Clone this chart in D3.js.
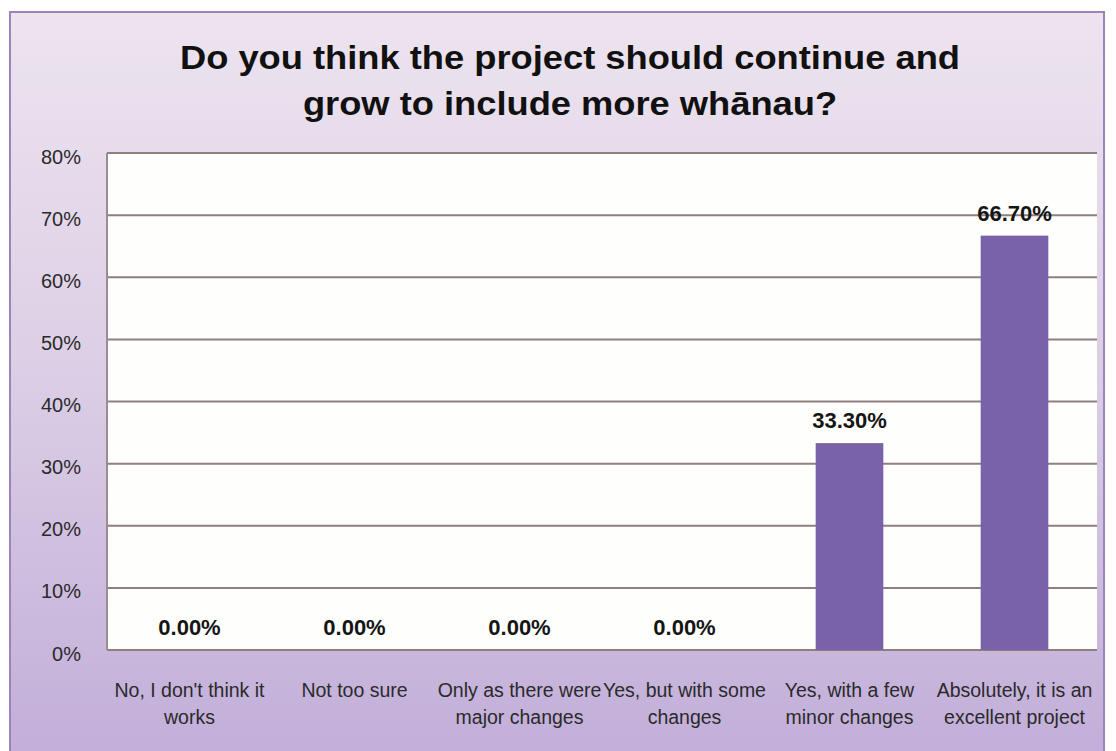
<!DOCTYPE html>
<html>
<head>
<meta charset="utf-8">
<script src="https://cdn.jsdelivr.net/npm/d3@7/dist/d3.min.js"></script>
<style>
  html, body { margin: 0; padding: 0; background: #ffffff; }
  svg { display: block; }
</style>
</head>
<body>
<svg id="chart" width="1116" height="751"></svg>
<script>
// Survey responses
const categories = [
  ["No, I don't think it", "works"],
  ["Not too sure"],
  ["Only as there were", "major changes"],
  ["Yes, but with some", "changes"],
  ["Yes, with a few", "minor changes"],
  ["Absolutely, it is an", "excellent project"]
];
const values = [0, 0, 0, 0, 33.3, 66.7];
const valueLabels = ["0.00%", "0.00%", "0.00%", "0.00%", "33.30%", "66.70%"];
const yTicks = [0, 10, 20, 30, 40, 50, 60, 70, 80];
const titleLines = ["Do you think the project should continue and", "grow to include more whānau?"];

const svg = d3.select("#chart");
const plot = { left: 107, right: 1097, top: 153, bottom: 650 };

const sans = "'Liberation Sans', Arial, Helvetica, sans-serif";

// Panel background gradient
const defs = svg.append("defs");
const grad = defs.append("linearGradient").attr("id", "bg").attr("x1", 0).attr("y1", 0).attr("x2", 0).attr("y2", 1);
grad.append("stop").attr("offset", "0%").attr("stop-color", "#ede4ef");
grad.append("stop").attr("offset", "45%").attr("stop-color", "#ddd0e6");
grad.append("stop").attr("offset", "100%").attr("stop-color", "#c2aed9");

svg.append("rect")
  .attr("x", 10).attr("y", 12).attr("width", 1094).attr("height", 745)
  .attr("fill", "url(#bg)")
  .attr("stroke", "#9a84b9").attr("stroke-width", 2);

// Title (slightly widened lettering)
svg.append("g").attr("transform", "translate(570,0) scale(1.1,1)")
  .selectAll("text").data(titleLines).join("text")
  .attr("x", 0).attr("y", (d, i) => 69 + i * 46)
  .attr("text-anchor", "middle")
  .attr("font-family", sans).attr("font-weight", "bold").attr("font-size", 33)
  .attr("fill", "#111")
  .text(d => d);

// Scales
const x = d3.scaleBand().domain(d3.range(categories.length))
  .range([plot.left, plot.right]).paddingInner(0.59).paddingOuter(0.295);
const y = d3.scaleLinear().domain([0, 80]).range([plot.bottom, plot.top]);

// Plot area
svg.append("rect")
  .attr("x", plot.left).attr("y", plot.top)
  .attr("width", plot.right - plot.left).attr("height", plot.bottom - plot.top)
  .attr("fill", "#fefefc");

// Gridlines
svg.append("g").selectAll("line").data(yTicks).join("line")
  .attr("x1", plot.left).attr("x2", plot.right)
  .attr("y1", d => y(d)).attr("y2", d => y(d))
  .attr("stroke", "#8f7f7f").attr("stroke-width", 2);

// Left axis line
svg.append("line")
  .attr("x1", plot.left).attr("x2", plot.left)
  .attr("y1", plot.top).attr("y2", plot.bottom)
  .attr("stroke", "#9a8c92").attr("stroke-width", 2);

// Y axis labels
const yAxis = d3.axisLeft(y).tickValues(yTicks).tickFormat(d => d + "%").tickSize(0).tickPadding(26);
const yg = svg.append("g").attr("transform", `translate(${plot.left},0)`).call(yAxis);
yg.select(".domain").remove();
yg.selectAll("text")
  .attr("font-family", sans).attr("font-size", 20).attr("fill", "#2a2a2a").attr("dy", "0.5em");

// Bars
svg.append("g").selectAll("rect").data(values).join("rect")
  .attr("x", (d, i) => x(i)).attr("width", x.bandwidth())
  .attr("y", d => y(d)).attr("height", d => y(0) - y(d))
  .attr("fill", "#7a62a8");

// Value labels
svg.append("g").selectAll("text").data(values).join("text")
  .attr("x", (d, i) => x(i) + x.bandwidth() / 2)
  .attr("y", d => y(d) - 15)
  .attr("text-anchor", "middle")
  .attr("font-family", sans).attr("font-weight", "bold").attr("font-size", 22)
  .attr("fill", "#151515")
  .text((d, i) => valueLabels[i]);

// Category labels
const cat = svg.append("g").selectAll("text").data(categories).join("text")
  .attr("text-anchor", "middle")
  .attr("font-family", sans).attr("font-size", 19.5).attr("fill", "#2a2a2a");
cat.selectAll("tspan").data((d, i) => d.map(t => ({ t, i }))).join("tspan")
  .attr("x", d => x(d.i) + x.bandwidth() / 2)
  .attr("y", (d, j) => 697 + j * 27)
  .text(d => d.t);
</script>
</body>
</html>
